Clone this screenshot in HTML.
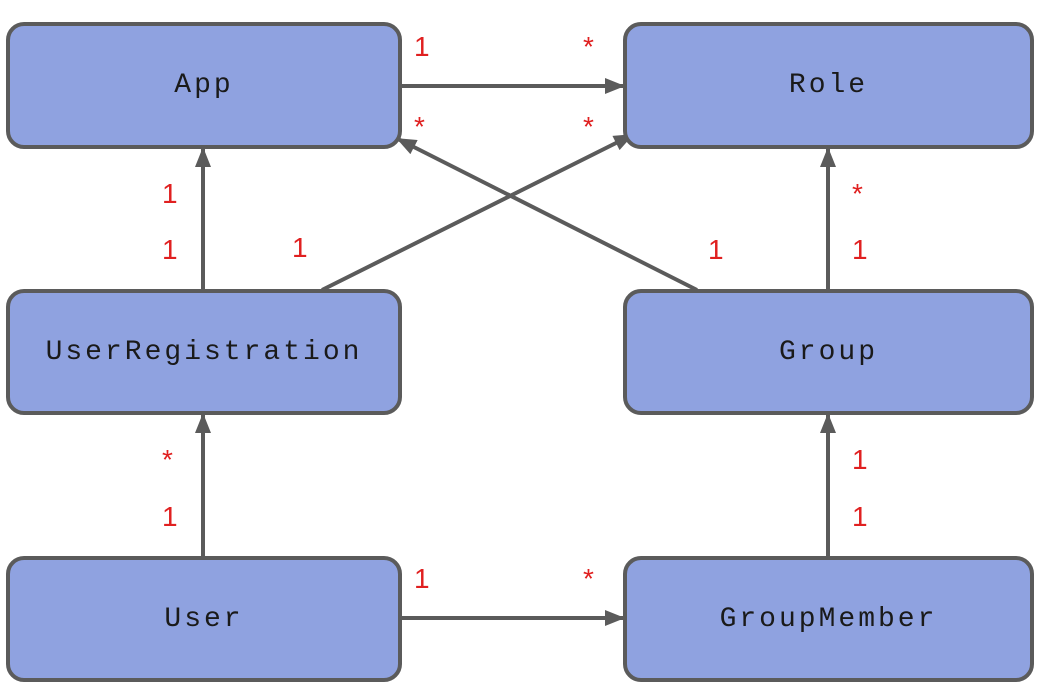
<!DOCTYPE html>
<html><head><style>
body{margin:0;background:#fff;width:1040px;height:683px;position:relative;overflow:hidden}
.b{position:absolute;box-sizing:border-box;background:#8fa2e0;border:4px solid #5b5b5b;border-radius:18px;display:flex;align-items:center;justify-content:center;font-family:"Liberation Mono","WenQuanYi Zen Hei",monospace;font-size:28px;letter-spacing:3px;color:#1a1a1a}
.l{position:absolute;font-family:"Liberation Sans",sans-serif;font-size:28px;color:#e02020;line-height:1}
svg{position:absolute;left:0;top:0}
</style></head><body>
<svg width="1040" height="683">
<defs><marker id="a" markerWidth="10" markerHeight="10" refX="9" refY="5" orient="auto" markerUnits="userSpaceOnUse"><path d="M0,0 L10,5 L0,10z" fill="#5b5b5b"/></marker>
<marker id="m" markerWidth="20" markerHeight="16" refX="18" refY="8" orient="auto" markerUnits="userSpaceOnUse"><path d="M0,0 L20,8 L0,16z" fill="#5b5b5b"/></marker></defs>
<g stroke="#5b5b5b" stroke-width="4" fill="none">
<line x1="400" y1="86" x2="623" y2="86" marker-end="url(#m)"/>
<line x1="203" y1="290" x2="203" y2="149" marker-end="url(#m)"/>
<line x1="322" y1="290" x2="632" y2="135" marker-end="url(#m)"/>
<line x1="697" y1="290" x2="398" y2="139" marker-end="url(#m)"/>
<line x1="828" y1="290" x2="828" y2="149" marker-end="url(#m)"/>
<line x1="203" y1="557" x2="203" y2="415" marker-end="url(#m)"/>
<line x1="400" y1="618" x2="623" y2="618" marker-end="url(#m)"/>
<line x1="828" y1="557" x2="828" y2="415" marker-end="url(#m)"/>
</g></svg>
<div class="b" style="left:6px;top:22px;width:396px;height:127px">App</div>
<div class="b" style="left:623px;top:22px;width:411px;height:127px">Role</div>
<div class="b" style="left:6px;top:289px;width:396px;height:126px">UserRegistration</div>
<div class="b" style="left:623px;top:289px;width:411px;height:126px">Group</div>
<div class="b" style="left:6px;top:556px;width:396px;height:126px">User</div>
<div class="b" style="left:623px;top:556px;width:411px;height:126px">GroupMember</div>
<div class="l" style="left:414px;top:33px">1</div>
<div class="l" style="left:583px;top:33px">*</div>
<div class="l" style="left:414px;top:113px">*</div>
<div class="l" style="left:583px;top:113px">*</div>
<div class="l" style="left:162px;top:180px">1</div>
<div class="l" style="left:162px;top:236px">1</div>
<div class="l" style="left:292px;top:234px">1</div>
<div class="l" style="left:708px;top:236px">1</div>
<div class="l" style="left:852px;top:180px">*</div>
<div class="l" style="left:852px;top:236px">1</div>
<div class="l" style="left:162px;top:446px">*</div>
<div class="l" style="left:162px;top:503px">1</div>
<div class="l" style="left:852px;top:446px">1</div>
<div class="l" style="left:852px;top:503px">1</div>
<div class="l" style="left:414px;top:565px">1</div>
<div class="l" style="left:583px;top:565px">*</div>
</body></html>
